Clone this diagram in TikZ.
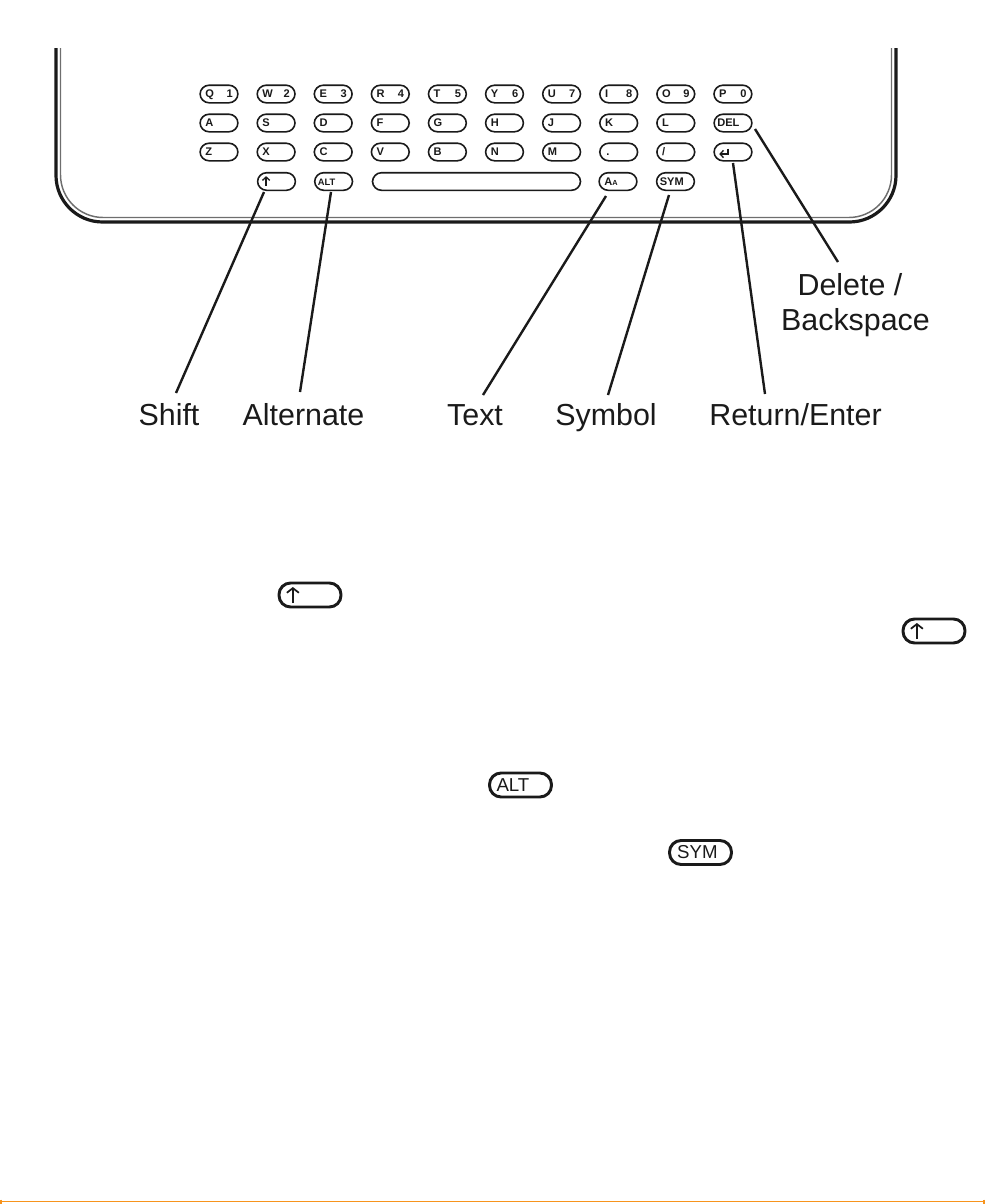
\documentclass[tikz,border=0pt]{standalone}
\usepackage{fontspec}
\setmainfont{Liberation Sans}
\usetikzlibrary{arrows.meta,positioning,calc}
\definecolor{inkBlack}{HTML}{1A1A1A}
\definecolor{rimGrey}{HTML}{6E6E6E}
\definecolor{ruleOrange}{HTML}{F7941D}
\tikzset{
  keycap/.style={draw=inkBlack,line width=1.2pt,rounded corners=6.8pt,inner sep=0pt,
    minimum height=13.2pt,minimum width=28.4pt,text width=20.5pt,text height=5.8pt,text depth=0pt,
    align=left,font=\fontsize{8.3}{8.3}\selectfont\bfseries,text=inkBlack},
  bigkey/.style={draw=inkBlack,line width=2.2pt,rounded corners=8.7pt,inner sep=0pt,
    minimum height=18pt,minimum width=46.5pt,text width=36pt,text height=9.5pt,text depth=0pt,
    align=left,font=\fontsize{14}{14}\selectfont,text=inkBlack},
  callout/.style={draw=inkBlack,line width=1.8pt},
  caption/.style={font=\fontsize{22.8}{22.8}\selectfont,text=inkBlack,inner sep=0pt,anchor=base},
  keyarrow/.style={draw=inkBlack,line width=1pt,-{Straight Barb[length=2.5pt,width=5.5pt]}},
  bigarrow/.style={draw=inkBlack,line width=1.3pt,-{Straight Barb[length=3.5pt,width=9pt]}}
}
\begin{document}
\begin{tikzpicture}[x=0.75pt,y=-0.75pt]
  \useasboundingbox (0,0) rectangle (985,1204);
  % device edge
  \draw[inkBlack,line width=2.4pt,rounded corners=35pt] (56,48) -- (56,222) -- (896,222) -- (896,48);
  \draw[rimGrey,line width=1.1pt,rounded corners=32pt] (60.5,48) -- (60.5,217.5) -- (891.5,217.5) -- (891.5,48);
  % keys
  \foreach \name/\col/\first/\second in {q/0/Q/1,w/1/W/2,e/2/E/3,r/3/R/4,t/4/T/5,y/5/Y/6,u/6/U/7,i/7/I/8,o/8/O/9,p/9/P/0}
    \node[keycap] (key\name) at (219+57.1*\col,94) {\first\hfill\second};
  \foreach \name/\col/\first in {a/0/A,s/1/S,d/2/D,f/3/F,g/4/G,h/5/H,j/6/J,k/7/K,l/8/L}
    \node[keycap] (key\name) at (219+57.1*\col,123) {\first};
  \foreach \name/\col/\first in {z/0/Z,x/1/X,c/2/C,v/3/V,b/4/B,n/5/N,m/6/M,dot/7/\hspace*{1pt}.,slash/8/{/}}
    \node[keycap] (key\name) at (219+57.1*\col,152) {\first};
  \node[keycap] (keydel) at (733,123) {\hspace*{-1.5pt}DEL};
  \node[keycap] (keyret) at (733,152) {};
  \node[keycap] (keyshift) at (276.5,181.5) {};
  \node[keycap] (keyalt) at (333.6,181.5) {\hspace*{-1.5pt}\fontsize{7}{7}\selectfont ALT};
  \node[keycap,minimum width=156pt] (keyspace) at (476.5,181.5) {};
  \node[keycap] (keytext) at (618,181.5) {A\fontsize{5.5}{5.5}\selectfont A};
  \node[keycap] (keysym) at (675.5,181.5) {\hspace*{-1.5pt}SYM};
  % glyphs on the keys
  \draw[keyarrow] ([xshift=7pt,yshift=-3.5pt]keyshift.west) -- ([xshift=7pt,yshift=4pt]keyshift.west);
  \draw[keyarrow] ([xshift=11pt,yshift=2.5pt]keyret.west) -- ([xshift=11pt,yshift=-1.5pt]keyret.west) -- ([xshift=4.5pt,yshift=-1.5pt]keyret.west);
  % callouts
  \node[caption] (lblshift) at (169,425) {Shift};
  \node[caption] (lblalt) at (303.5,425) {Alternate};
  \node[caption] (lbltext) at (475,425) {Text};
  \node[caption] (lblsym) at (606,425) {Symbol};
  \node[caption] (lblret) at (795.5,425) {Return/Enter};
  \node[caption] (lbldel) at (850,295) {Delete /};
  \node[caption] (lblback) at (855.5,330) {Backspace};
  \coordinate (tipshift) at (264,192);
  \coordinate (tipalt) at (331,192);
  \coordinate (tiptext) at (606,196);
  \coordinate (tipsym) at (669,195);
  \coordinate (tipret) at (733,163);
  \coordinate (tipdel) at (755,129);
  \coordinate (footshift) at (176,393);
  \coordinate (footalt) at (300,392);
  \coordinate (foottext) at (483,395);
  \coordinate (footsym) at (608,395);
  \coordinate (footret) at (765,394);
  \coordinate (footdel) at (838,262);
  \foreach \name in {shift,alt,text,sym,ret,del}
    \draw[callout] (tip\name) -- (foot\name);
  % keys in the running text
  \node[bigkey] (inshifta) at (310,595) {};
  \node[bigkey] (inshiftb) at (934,631) {};
  \node[bigkey] (inalt) at (520.5,785) {ALT};
  \node[bigkey] (insym) at (700.5,852.5) {\hspace*{.5pt}SYM};
  \draw[bigarrow] ([xshift=11.5pt,yshift=-6pt]inshifta.west) -- ([xshift=11.5pt,yshift=6pt]inshifta.west);
  \draw[bigarrow] ([xshift=11.5pt,yshift=-6pt]inshiftb.west) -- ([xshift=11.5pt,yshift=6pt]inshiftb.west);
  % page rule
  \draw[ruleOrange,line width=0.8pt] (0,1201.5) -- (985,1201.5);
  \draw[ruleOrange,line width=1.2pt] (1,1199.5) -- (1,1204) (984,1199.5) -- (984,1204);
\end{tikzpicture}
\end{document}
